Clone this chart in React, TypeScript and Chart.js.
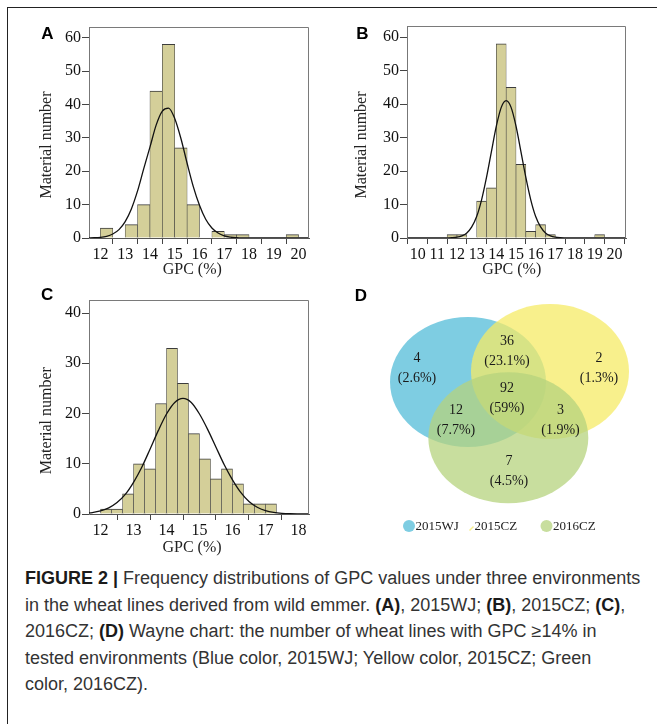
import React, { useEffect, useRef } from "react";
import { Chart, registerables } from "chart.js";
Chart.register(...registerables);

const SERIF = '"Liberation Serif", "Times New Roman", serif';
const SANS = '"Liberation Sans", Arial, Helvetica, sans-serif';

// ---------- Panel A: 2015WJ ----------
const aBinStarts = [12.0, 12.5, 13.0, 13.5, 14.0, 14.5, 15.0, 15.5, 16.0, 16.5, 17.0, 17.5, 18.0, 18.5, 19.0, 19.5];
const aCounts = [3, 0, 4, 10, 44, 58, 27, 10, 0, 2, 1, 1, 0, 0, 0, 1];
const aCurveX = [11.5, 11.75, 12, 12.25, 12.5, 12.75, 13, 13.25, 13.5, 13.75, 14, 14.25, 14.5, 14.75, 15, 15.25, 15.5, 15.75, 16, 16.25, 16.5, 16.75, 17, 17.25, 17.5, 17.75, 18, 20.5];
const aCurveY = [0.03, 0.07, 0.19, 0.5, 1.2, 2.5, 4.9, 8.7, 14.1, 20.8, 27.2, 33.8, 38.0, 38.9, 35.8, 29.8, 22.4, 15.4, 9.8, 5.6, 3.0, 1.5, 0.65, 0.27, 0.1, 0.03, 0.01, 0];
const aXTicks = [12, 13, 14, 15, 16, 17, 18, 19, 20];

// ---------- Panel B: 2015CZ ----------
const bBinStarts = [11.5, 12.0, 12.5, 13.0, 13.5, 14.0, 14.5, 15.0, 15.5, 16.0, 16.5, 17.0, 17.5, 18.0, 18.5, 19.0];
const bCounts = [1, 1, 0, 11, 15, 58, 45, 22, 2, 4, 1, 0, 0, 0, 0, 1];
const bCurveX = [9.5, 11.25, 11.5, 11.75, 12, 12.25, 12.5, 12.75, 13, 13.25, 13.5, 13.75, 14, 14.25, 14.5, 14.75, 15, 15.25, 15.5, 15.75, 16, 16.25, 16.5, 16.75, 17, 17.25, 17.5, 17.75, 20.6];
const bCurveY = [0, 0.005, 0.03, 0.08, 0.24, 0.64, 1.5, 3.3, 6.4, 11.4, 18.1, 25.8, 33.4, 39.0, 41.0, 39.0, 33.4, 25.8, 18.1, 11.4, 6.4, 3.3, 1.5, 0.64, 0.24, 0.08, 0.03, 0.01, 0];
const bXTicks = [10, 11, 12, 13, 14, 15, 16, 17, 18, 19, 20];

const abYTicks = [0, 10, 20, 30, 40, 50, 60];

// ---------- Panel C: 2016CZ ----------
const cBinStarts = [12.0, 12.333, 12.667, 13.0, 13.333, 13.667, 14.0, 14.333, 14.667, 15.0, 15.333, 15.667, 16.0, 16.333, 16.667, 17.0];
const cCounts = [1, 1, 4, 10, 9, 22, 33, 26, 16, 11, 7, 9, 6, 2, 2, 2];
const cCurveX = [11.5, 11.75, 12, 12.25, 12.5, 12.75, 13, 13.25, 13.5, 13.75, 14, 14.25, 14.5, 14.75, 15, 15.25, 15.5, 15.75, 16, 16.25, 16.5, 16.75, 17, 17.25, 17.5, 17.75, 18, 18.4];
const cCurveY = [0.13, 0.29, 0.62, 1.23, 2.28, 3.9, 6.3, 9.3, 12.9, 16.6, 19.9, 22.2, 23.0, 22.2, 19.9, 16.8, 13.3, 9.8, 6.8, 4.3, 2.5, 1.35, 0.68, 0.31, 0.13, 0.05, 0.02, 0];
const cXTicks = [12, 13, 14, 15, 16, 17, 18];
const cYTicks = [0, 10, 20, 30, 40];

// ---------- Panel D: Venn ----------
const vennSetNames = ["2015WJ", "2015CZ", "2016CZ"];
const vennRegionCounts = [4, 36, 2, 92, 12, 3, 7];
const vennRegionPercents = ["(2.6%)", "(23.1%)", "(1.3%)", "(59%)", "(7.7%)", "(1.9%)", "(4.5%)"];

// layout (canvas units) for the Venn drawing
const VENN_ELLIPSES = [
  { cx: 128, cy: 97, rx: 78, ry: 65, color: "rgb(83,188,216)" },
  { cx: 210, cy: 86.5, rx: 79, ry: 67.5, color: "rgb(246,235,102)" },
  { cx: 168.3, cy: 152.8, rx: 80, ry: 65.5, color: "rgb(182,211,126)" },
];
const VENN_LABEL_POS = [
  [77, 83.5], [167, 66.5], [259, 83.5], [167, 113.5], [116, 135.5], [220.5, 135.5], [169, 186.5],
];
const VENN_LEGEND_SOLID = ["rgb(126,205,226)", "rgb(248,240,140)", "rgb(200,222,158)"];

const X_TITLE = "GPC (%)";
const Y_TITLE = "Material number";

type Box = { left: number; top: number; width: number; height: number };
type Area = { left: number; top: number; right: number; bottom: number };

type HistProps = {
  letter: string;
  box: Box;
  area: Area;
  xMin: number;
  xMax: number;
  yMax: number;
  xTicks: number[];
  yTicks: number[];
  binStarts: number[];
  binWidth: number;
  counts: number[];
  curveX: number[];
  curveY: number[];
  letterD: [number, number];
  yTitleD: [number, number];
  xTitleD: [number, number];
};

function Histogram(p: HistProps) {
  const ref = useRef<HTMLCanvasElement>(null);
  useEffect(() => {
    const padTop = p.area.top - p.box.top;
    const padRight = p.box.left + p.box.width - p.area.right;
    const yWidth = p.area.left - p.box.left;
    const xHeight = p.box.top + p.box.height - p.area.bottom;
    const framePlugin = {
      id: "frame" + p.letter,
      afterDraw(chart: any) {
        const { ctx, chartArea: a } = chart;
        ctx.save();
        ctx.strokeStyle = "#7a7a7a";
        ctx.lineWidth = 1;
        ctx.beginPath();
        ctx.moveTo(a.left, a.top + 0.5);
        ctx.lineTo(a.right - 0.5, a.top + 0.5);
        ctx.lineTo(a.right - 0.5, a.bottom);
        ctx.stroke();
        ctx.textAlign = "center";
        ctx.textBaseline = "middle";
        ctx.fillStyle = "#000";
        ctx.font = `bold 17px ${SANS}`;
        ctx.fillText(p.letter, a.left + p.letterD[0], a.top + p.letterD[1]);
        ctx.fillStyle = "#222";
        ctx.font = `16px ${SERIF}`;
        ctx.fillText(X_TITLE, (a.left + a.right) / 2 + p.xTitleD[0], a.bottom + p.xTitleD[1]);
        ctx.translate(a.left + p.yTitleD[0], (a.top + a.bottom) / 2 + p.yTitleD[1]);
        ctx.rotate(-Math.PI / 2);
        ctx.fillText(Y_TITLE, 0, 0);
        ctx.restore();
      },
    };
    const tickFont = { family: SERIF, size: 16 };
    const chart = new Chart(ref.current as HTMLCanvasElement, {
      type: "bar",
      data: {
        datasets: [
          {
            type: "line",
            data: p.curveX.map((x, i) => ({ x, y: p.curveY[i] })),
            borderColor: "#111",
            borderWidth: 1.3,
            pointRadius: 0,
            cubicInterpolationMode: "monotone",
            fill: false,
            order: 0,
          } as any,
          {
            type: "bar",
            data: p.binStarts.map((s, i) => ({ x: s + p.binWidth / 2, y: p.counts[i] })),
            backgroundColor: "rgb(212,207,153)",
            borderColor: "#3c3c3c",
            borderWidth: { top: 1, left: 0.6, right: 0.6, bottom: 0 },
            barPercentage: 1,
            categoryPercentage: 1,
            order: 1,
          } as any,
        ],
      },
      options: {
        responsive: false,
        animation: false,
        events: [],
        layout: { padding: { left: 0, top: padTop, right: padRight, bottom: 0 } },
        plugins: { legend: { display: false }, tooltip: { enabled: false } },
        scales: {
          x: {
            type: "linear",
            min: p.xMin,
            max: p.xMax,
            offset: false,
            grid: { display: true, drawOnChartArea: false, drawTicks: true, tickLength: 6, color: "#444" },
            border: { display: true, color: "#555", width: 1 },
            ticks: { color: "#111", font: tickFont, padding: 1, maxRotation: 0, autoSkip: false, callback: (v: any) => String(v) },
            afterBuildTicks: (s: any) => {
              s.ticks = p.xTicks.map((v) => ({ value: v }));
            },
            afterFit: (s: any) => {
              s.height = xHeight;
              s.paddingLeft = 0;
              s.paddingRight = 0;
            },
          },
          y: {
            type: "linear",
            min: 0,
            max: p.yMax,
            grid: { display: true, drawOnChartArea: false, drawTicks: true, tickLength: 7, color: "#444" },
            border: { display: true, color: "#777", width: 1 },
            ticks: { color: "#111", font: tickFont, padding: 1, autoSkip: false, callback: (v: any) => String(v) },
            afterBuildTicks: (s: any) => {
              s.ticks = p.yTicks.map((v) => ({ value: v }));
            },
            afterFit: (s: any) => {
              s.width = yWidth;
              s.paddingTop = 0;
              s.paddingBottom = 0;
            },
          },
        },
      } as any,
      plugins: [framePlugin],
    });
    return () => chart.destroy();
  }, []);
  return (
    <canvas
      ref={ref}
      width={p.box.width}
      height={p.box.height}
      style={{ position: "absolute", left: p.box.left, top: p.box.top, width: p.box.width, height: p.box.height }}
    />
  );
}

function Venn() {
  const ref = useRef<HTMLCanvasElement>(null);
  const box = { left: 340, top: 285, width: 310, height: 255 };
  useEffect(() => {
    const vennPlugin = {
      id: "venn",
      afterDraw(chart: any) {
        const ctx = chart.ctx;
        const xs = chart.scales.x;
        const ys = chart.scales.y;
        const px = (v: number) => xs.getPixelForValue(v);
        const py = (v: number) => ys.getPixelForValue(v);
        ctx.save();
        VENN_ELLIPSES.forEach((e) => {
          ctx.globalAlpha = 0.75;
          ctx.fillStyle = e.color;
          ctx.beginPath();
          ctx.ellipse(px(e.cx), py(e.cy), Math.abs(px(e.cx + e.rx) - px(e.cx)), Math.abs(py(e.cy + e.ry) - py(e.cy)), 0, 0, Math.PI * 2);
          ctx.fill();
        });
        ctx.globalAlpha = 1;
        ctx.fillStyle = "#1a1a1a";
        ctx.font = `14px ${SERIF}`;
        ctx.textAlign = "center";
        ctx.textBaseline = "middle";
        vennRegionCounts.forEach((c, i) => {
          const [x, y] = VENN_LABEL_POS[i];
          ctx.fillText(String(c), px(x), py(y - 10));
          ctx.fillText(vennRegionPercents[i], px(x), py(y + 10));
        });
        // panel letter
        ctx.fillStyle = "#000";
        ctx.font = `bold 17px ${SANS}`;
        ctx.fillText("D", px(21), py(11.5));
        // legend
        const ly = 241;
        ctx.font = `13px ${SERIF}`;
        ctx.textAlign = "left";
        ctx.fillStyle = VENN_LEGEND_SOLID[0];
        ctx.beginPath();
        ctx.arc(px(69), py(ly), 6, 0, Math.PI * 2);
        ctx.fill();
        ctx.strokeStyle = VENN_LEGEND_SOLID[1];
        ctx.lineWidth = 1.5;
        ctx.beginPath();
        ctx.moveTo(px(129.5), py(ly + 4.5));
        ctx.lineTo(px(133.5), py(ly + 0.5));
        ctx.stroke();
        ctx.fillStyle = VENN_LEGEND_SOLID[2];
        ctx.beginPath();
        ctx.arc(px(206.5), py(ly), 6, 0, Math.PI * 2);
        ctx.fill();
        ctx.fillStyle = "#222";
        ctx.fillText(vennSetNames[0], px(75.5), py(ly + 1));
        ctx.fillText(vennSetNames[1], px(134.5), py(ly + 1));
        ctx.fillText(vennSetNames[2], px(213), py(ly + 1));
        ctx.restore();
      },
    };
    const chart = new Chart(ref.current as HTMLCanvasElement, {
      type: "scatter",
      data: { datasets: [{ data: [] }] },
      options: {
        responsive: false,
        animation: false,
        events: [],
        layout: { padding: 0 },
        plugins: { legend: { display: false }, tooltip: { enabled: false } },
        scales: {
          x: { type: "linear", min: 0, max: box.width, display: false },
          y: { type: "linear", min: 0, max: box.height, reverse: true, display: false },
        },
      } as any,
      plugins: [vennPlugin],
    });
    return () => chart.destroy();
  }, []);
  return (
    <canvas
      ref={ref}
      width={box.width}
      height={box.height}
      style={{ position: "absolute", left: box.left, top: box.top, width: box.width, height: box.height }}
    />
  );
}

export default function App() {
  const b = { fontWeight: 700, color: "#1a1a1a" } as React.CSSProperties;
  return (
    <div style={{ position: "absolute", left: 0, top: 0, width: 657, height: 724, overflow: "hidden", background: "#fff" }}>
      <div style={{ position: "absolute", left: 7, top: 7, width: 720, height: 800, borderTop: "1px solid #222", borderLeft: "1px solid #222" }} />
      <Histogram
        letter="A"
        box={{ left: 8, top: 12, width: 312, height: 268 }}
        area={{ left: 89, top: 27, right: 309, bottom: 238 }}
        xMin={11.54}
        xMax={20.42}
        yMax={63.2}
        xTicks={aXTicks}
        yTicks={abYTicks}
        binStarts={aBinStarts}
        binWidth={0.5}
        counts={aCounts}
        curveX={aCurveX}
        curveY={aCurveY}
        letterD={[-41.5, 7.5]}
        yTitleD={[-42.3, 12.5]}
        xTitleD={[-6.7, 32]}
      />
      <Histogram
        letter="B"
        box={{ left: 326, top: 12, width: 320, height: 268 }}
        area={{ left: 407, top: 26, right: 626, bottom: 238 }}
        xMin={9.46}
        xMax={20.59}
        yMax={63.3}
        xTicks={bXTicks}
        yTicks={abYTicks}
        binStarts={bBinStarts}
        binWidth={0.5}
        counts={bCounts}
        curveX={bCurveX}
        curveY={bCurveY}
        letterD={[-44.5, 8.5]}
        yTitleD={[-45.3, 13]}
        xTitleD={[-4.8, 32]}
      />
      <Histogram
        letter="C"
        box={{ left: 8, top: 285, width: 312, height: 275 }}
        area={{ left: 89, top: 300, right: 309, bottom: 514 }}
        xMin={11.65}
        xMax={18.32}
        yMax={42.6}
        xTicks={cXTicks}
        yTicks={cYTicks}
        binStarts={cBinStarts}
        binWidth={0.3333}
        counts={cCounts}
        curveX={cCurveX}
        curveY={cCurveY}
        letterD={[-41.8, -4.2]}
        yTitleD={[-42, 13.7]}
        xTitleD={[-7, 33.5]}
      />
      <Venn />
      <div
        style={{
          position: "absolute",
          left: 25,
          top: 565,
          fontFamily: SANS,
          fontSize: 18,
          lineHeight: "26.5px",
          color: "#333",
          whiteSpace: "nowrap",
        }}
      >
        <span style={b}>FIGURE 2 |</span> Frequency distributions of GPC values under three environments
        <br />
        in the wheat lines derived from wild emmer. <span style={b}>(A)</span>, 2015WJ; <span style={b}>(B)</span>, 2015CZ; <span style={b}>(C)</span>,
        <br />
        2016CZ; <span style={b}>(D)</span> Wayne chart: the number of wheat lines with GPC ≥14% in
        <br />
        tested environments (Blue color, 2015WJ; Yellow color, 2015CZ; Green
        <br />
        color, 2016CZ).
      </div>
    </div>
  );
}
